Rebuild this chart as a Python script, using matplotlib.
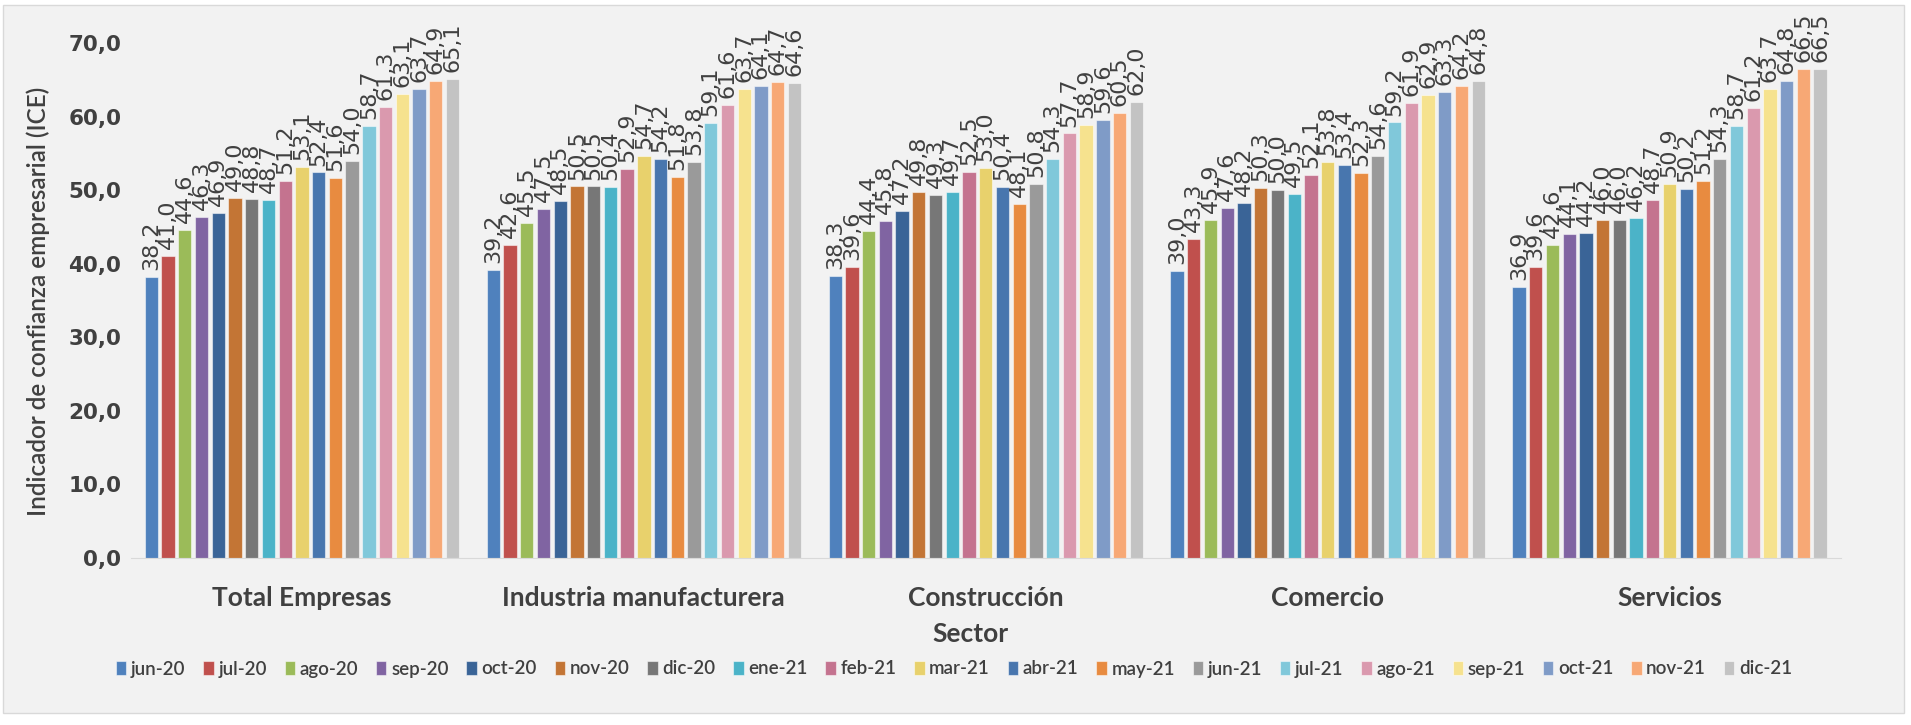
import numpy as np
import matplotlib.pyplot as plt
from matplotlib.patches import Rectangle
from matplotlib.ticker import FuncFormatter

sectores = ["Total Empresas", "Industria manufacturera", "Construcción", "Comercio", "Servicios"]
meses = ["jun-20", "jul-20", "ago-20", "sep-20", "oct-20", "nov-20", "dic-20",
         "ene-21", "feb-21", "mar-21", "abr-21", "may-21", "jun-21", "jul-21",
         "ago-21", "sep-21", "oct-21", "nov-21", "dic-21"]

# valores por sector, un valor por mes
total_empresas = [38.2, 41.0, 44.6, 46.3, 46.9, 49.0, 48.8, 48.7, 51.2, 53.1,
                  52.4, 51.6, 54.0, 58.7, 61.3, 63.1, 63.7, 64.9, 65.1]
industria = [39.2, 42.6, 45.5, 47.5, 48.5, 50.5, 50.5, 50.4, 52.9, 54.7,
             54.2, 51.8, 53.8, 59.1, 61.6, 63.7, 64.1, 64.7, 64.6]
construccion = [38.3, 39.6, 44.4, 45.8, 47.2, 49.8, 49.3, 49.7, 52.5, 53.0,
                50.4, 48.1, 50.8, 54.3, 57.7, 58.9, 59.6, 60.5, 62.0]
comercio = [39.0, 43.3, 45.9, 47.6, 48.2, 50.3, 50.0, 49.5, 52.1, 53.8,
            53.4, 52.3, 54.6, 59.2, 61.9, 62.9, 63.3, 64.2, 64.8]
servicios = [36.9, 39.6, 42.6, 44.1, 44.2, 46.0, 46.0, 46.2, 48.7, 50.9,
             50.2, 51.2, 54.3, 58.7, 61.2, 63.7, 64.8, 66.5, 66.5]

colores = ["#4F81BD", "#C0504D", "#9BBB59", "#8064A2", "#3A6497", "#C37535",
           "#777777", "#4BB3C8", "#C4738F", "#E8D16C", "#4876AE", "#E88B40",
           "#9A9A9A", "#80C8DA", "#DA99AE", "#F6E28E", "#7F9BC7", "#F7A875",
           "#C3C3C3"]

datos = np.array([total_empresas, industria, construccion, comercio, servicios])

W, H = 1911, 725
fig = plt.figure(figsize=(W / 100, H / 100), dpi=100)
fig.patch.set_facecolor("white")
fig.patches.append(Rectangle((3 / W, 1 - 713 / H), 1901 / W, 708 / H,
                             transform=fig.transFigure, facecolor="#F2F2F2",
                             edgecolor="#D9D9D9", lw=1, zorder=-5))

ax = fig.add_axes([131 / W, 1 - 558 / H, 1709.5 / W, 515 / H])
ax.set_facecolor("none")

step = 16.73 / 341.9
ancho = 13.3 / 341.9
x = np.arange(len(sectores))
texto = "#404040"

for j, mes in enumerate(meses):
    vals = datos[:, j]
    barras = ax.bar(x + (j - 9) * step, vals, ancho, color=colores[j],
                    edgecolor=(1, 1, 1, 0.5), linewidth=0.8, label=mes)
    for b, v in zip(barras, vals):
        ax.annotate(f"{v:.1f}".replace(".", ","),
                    (b.get_x() + b.get_width() / 2, v),
                    xytext=(0, 5), textcoords="offset points",
                    rotation=90, ha="center", va="bottom",
                    fontsize=16, color=texto, annotation_clip=False)

ax.set_xlim(-0.5, 4.5)
ax.set_ylim(0, 70)
ax.set_yticks(np.arange(0, 71, 10))
ax.yaxis.set_major_formatter(FuncFormatter(lambda v, p: f"{v:.1f}".replace(".", ",")))
ax.set_xticks(x)
ax.set_xticklabels(sectores, fontsize=19, fontweight="bold", color=texto,
                   family="Lato")
for lab in ax.get_yticklabels():
    lab.set_fontweight("bold")
ax.tick_params(axis="y", length=0, labelsize=15.5, labelcolor=texto, pad=7)
ax.tick_params(axis="x", length=0, pad=20)
for s in ["left", "top", "right"]:
    ax.spines[s].set_visible(False)
ax.spines["bottom"].set_color("#D9D9D9")

fig.text(38 / W, 1 - 301 / H, "Indicador de confianza empresarial (ICE)",
         rotation=90, ha="center", va="center", fontsize=17.5, color=texto,
         family="Lato", fontweight="semibold")
fig.text(970 / W, 1 - 634 / H, "Sector", ha="center", va="center",
         fontsize=19, fontweight="bold", color=texto, family="Lato")

fig.legend(loc="center", bbox_to_anchor=(954 / W, 1 - 669 / H), ncol=19,
           frameon=False, prop={"family": "Lato", "size": 13.5, "weight": "semibold"},
           labelcolor=texto, handlelength=0.55, handleheight=0.8,
           handletextpad=0.25, columnspacing=0.95)

fig.savefig("out.png", dpi=100, facecolor=fig.get_facecolor())
